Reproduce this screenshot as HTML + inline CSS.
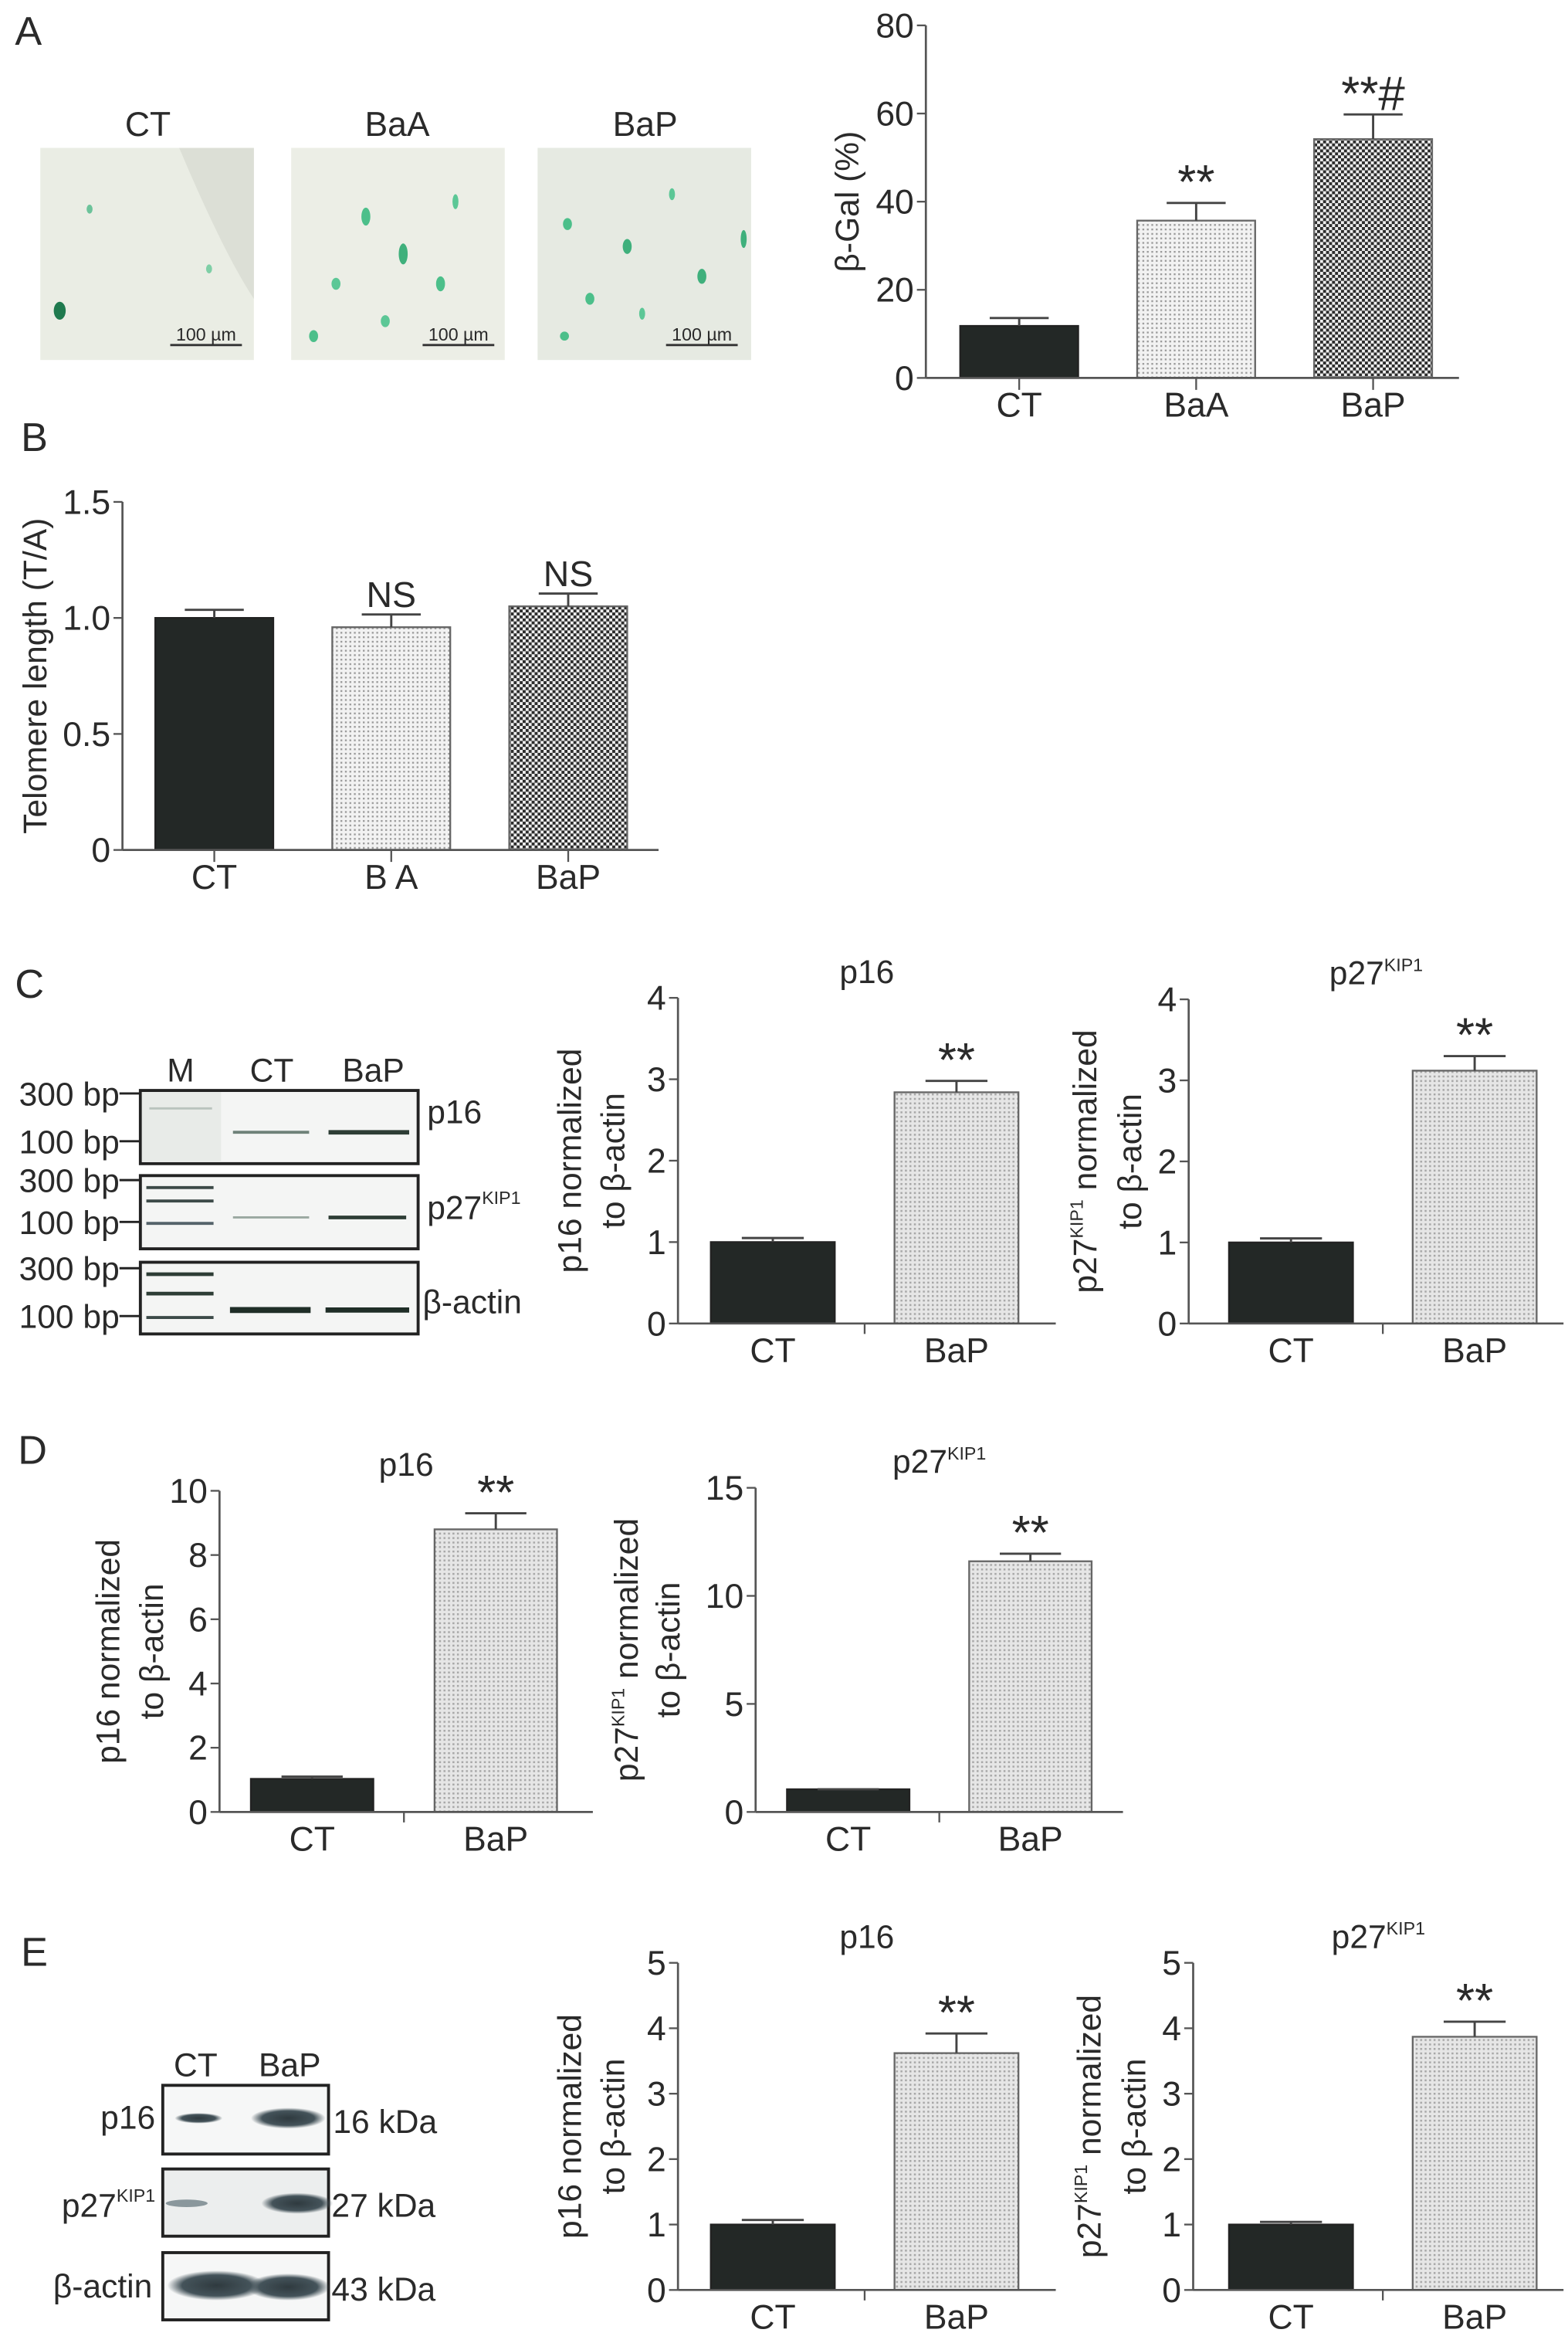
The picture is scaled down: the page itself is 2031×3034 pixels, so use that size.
<!DOCTYPE html>
<html><head><meta charset="utf-8"><style>
html,body{margin:0;padding:0;background:#fff;}
svg{display:block;}
text{font-family:"Liberation Sans",sans-serif;fill:#2a2a2a;}
</style></head><body>
<svg id="fig" xmlns="http://www.w3.org/2000/svg" width="2031" height="3034" viewBox="0 0 1050 1568.5" preserveAspectRatio="none">
<defs>
<pattern id="dotLight" width="3" height="3" patternUnits="userSpaceOnUse"><rect width="3" height="3" fill="#f2f2f2"/><rect width="1.2" height="1.2" fill="#9a9a9a"/></pattern>
<pattern id="checker" width="4" height="4" patternUnits="userSpaceOnUse"><rect width="4" height="4" fill="#eeeeee"/><rect width="2" height="2" fill="#2c2c2c"/><rect x="2" y="2" width="2" height="2" fill="#2c2c2c"/></pattern>
<pattern id="dotBaP" width="3" height="3" patternUnits="userSpaceOnUse"><rect width="3" height="3" fill="#e6e6e6"/><rect width="1.3" height="1.3" fill="#a8a8a8"/></pattern>
<radialGradient id="band" cx="50%" cy="50%" r="50%"><stop offset="0" stop-color="#2f3a3f"/><stop offset="0.7" stop-color="#44535a"/><stop offset="1" stop-color="#44535a" stop-opacity="0"/></radialGradient>
</defs>

<text x="10" y="30" font-size="27">A</text>
<text x="14" y="302" font-size="27">B</text>
<text x="10" y="668" font-size="27">C</text>
<text x="12" y="980" font-size="27">D</text>
<text x="14" y="1316" font-size="27">E</text>

<g>
<text x="99" y="91" font-size="23" text-anchor="middle">CT</text>
<rect x="27" y="99" width="143" height="142" fill="#eaede4"/>
<path d="M120 99 Q150 170 170 200 L170 99Z" fill="#dcdfd6"/>
<ellipse cx="40" cy="208" rx="4" ry="6" fill="#1f7a4e"/>
<ellipse cx="60" cy="140" rx="2" ry="3" fill="#6cc39a"/>
<ellipse cx="140" cy="180" rx="2" ry="3" fill="#7fcfa6"/>
<line x1="114" y1="231" x2="162" y2="231" stroke="#333" stroke-width="1.5"/>
<text x="138" y="228" font-size="12" text-anchor="middle">100 µm</text>
</g>
<g>
<text x="266" y="91" font-size="23" text-anchor="middle">BaA</text>
<rect x="195" y="99" width="143" height="142" fill="#eceee6"/>
<ellipse cx="245" cy="145" rx="3" ry="6" fill="#4cbf8a"/>
<ellipse cx="270" cy="170" rx="3" ry="7" fill="#3fb07c"/>
<ellipse cx="295" cy="190" rx="3" ry="5" fill="#4cbf8a"/>
<ellipse cx="225" cy="190" rx="3" ry="4" fill="#5cc796"/>
<ellipse cx="305" cy="135" rx="2" ry="5" fill="#5cc796"/>
<ellipse cx="210" cy="225" rx="3" ry="4" fill="#4cbf8a"/>
<ellipse cx="258" cy="215" rx="3" ry="4" fill="#5cc796"/>
<line x1="283" y1="231" x2="331" y2="231" stroke="#333" stroke-width="1.5"/>
<text x="307" y="228" font-size="12" text-anchor="middle">100 µm</text>
</g>
<g>
<text x="432" y="91" font-size="23" text-anchor="middle">BaP</text>
<rect x="360" y="99" width="143" height="142" fill="#e6eae2"/>
<ellipse cx="380" cy="150" rx="3" ry="4" fill="#4cbf8a"/>
<ellipse cx="420" cy="165" rx="3" ry="5" fill="#3fb07c"/>
<ellipse cx="450" cy="130" rx="2" ry="4" fill="#5cc796"/>
<ellipse cx="395" cy="200" rx="3" ry="4" fill="#4cbf8a"/>
<ellipse cx="470" cy="185" rx="3" ry="5" fill="#3fb07c"/>
<ellipse cx="498" cy="160" rx="2" ry="6" fill="#3fb07c"/>
<ellipse cx="378" cy="225" rx="3" ry="3" fill="#4cbf8a"/>
<ellipse cx="430" cy="210" rx="2" ry="4" fill="#5cc796"/>
<line x1="446" y1="231" x2="494" y2="231" stroke="#333" stroke-width="1.5"/>
<text x="470" y="228" font-size="12" text-anchor="middle">100 µm</text>
</g>

<g font-size="22">
<text x="121" y="724" text-anchor="middle">M</text>
<text x="182" y="724" text-anchor="middle">CT</text>
<text x="250" y="724" text-anchor="middle">BaP</text>
<rect x="94" y="730" width="186" height="49" fill="#f4f5f4" stroke="#222" stroke-width="2"/>
<rect x="95" y="731" width="53" height="47" fill="#e8ebe8"/>
<rect x="94" y="787" width="186" height="49" fill="#f4f5f4" stroke="#222" stroke-width="2"/>
<rect x="94" y="845" width="186" height="48" fill="#f4f5f4" stroke="#222" stroke-width="2"/>
<line x1="100" y1="742" x2="142" y2="742" stroke="#b9c3bd" stroke-width="1.5"/>
<line x1="156" y1="758" x2="207" y2="758" stroke="#6f8279" stroke-width="2"/>
<line x1="220" y1="758" x2="274" y2="758" stroke="#2d3d35" stroke-width="3"/>
<line x1="98" y1="795" x2="143" y2="795" stroke="#3c4a48" stroke-width="2"/>
<line x1="98" y1="804" x2="143" y2="804" stroke="#3c4a48" stroke-width="2"/>
<line x1="98" y1="819" x2="143" y2="819" stroke="#55636a" stroke-width="2"/>
<line x1="156" y1="815" x2="207" y2="815" stroke="#9aa8a0" stroke-width="1.5"/>
<line x1="220" y1="815" x2="272" y2="815" stroke="#2d3d35" stroke-width="2.5"/>
<line x1="98" y1="853" x2="143" y2="853" stroke="#2d3d35" stroke-width="2.5"/>
<line x1="98" y1="866" x2="143" y2="866" stroke="#2d3d35" stroke-width="2.5"/>
<line x1="98" y1="882" x2="143" y2="882" stroke="#3c4a48" stroke-width="2"/>
<line x1="154" y1="877" x2="208" y2="877" stroke="#1f2e27" stroke-width="4"/>
<line x1="218" y1="877" x2="274" y2="877" stroke="#1f2e27" stroke-width="3.5"/>
<g text-anchor="end">
<text x="80" y="740">300 bp</text><line x1="80" y1="732" x2="94" y2="732" stroke="#222" stroke-width="1.5"/>
<text x="80" y="772">100 bp</text><line x1="80" y1="764" x2="94" y2="764" stroke="#222" stroke-width="1.5"/>
<text x="80" y="798">300 bp</text><line x1="80" y1="790" x2="94" y2="790" stroke="#222" stroke-width="1.5"/>
<text x="80" y="826">100 bp</text><line x1="80" y1="818" x2="94" y2="818" stroke="#222" stroke-width="1.5"/>
<text x="80" y="857">300 bp</text><line x1="80" y1="849" x2="94" y2="849" stroke="#222" stroke-width="1.5"/>
<text x="80" y="889">100 bp</text><line x1="80" y1="881" x2="94" y2="881" stroke="#222" stroke-width="1.5"/>
</g>
<text x="286" y="752">p16</text>
<text x="286" y="816">p27<tspan font-size="12" dy="-10">KIP1</tspan></text>
<text x="283" y="879">β-actin</text>
</g>

<g font-size="22">
<text x="131" y="1390" text-anchor="middle">CT</text>
<text x="194" y="1390" text-anchor="middle">BaP</text>
<rect x="109" y="1396" width="111" height="46" fill="#f6f7f7" stroke="#222" stroke-width="2"/>
<rect x="109" y="1452" width="111" height="45" fill="#eceeee" stroke="#222" stroke-width="2"/>
<rect x="109" y="1508" width="111" height="45" fill="#f6f7f7" stroke="#222" stroke-width="2"/>
<ellipse cx="133" cy="1418" rx="16" ry="3.5" fill="url(#band)"/>
<ellipse cx="193" cy="1418" rx="25" ry="7" fill="url(#band)"/>
<ellipse cx="125" cy="1475" rx="14" ry="2.5" fill="#8a979c"/>
<ellipse cx="199" cy="1475" rx="24" ry="7" fill="url(#band)"/>
<ellipse cx="145" cy="1530" rx="33" ry="10" fill="url(#band)"/>
<ellipse cx="193" cy="1531" rx="28" ry="9" fill="url(#band)"/>
<text x="104" y="1425" text-anchor="end">p16</text>
<text x="104" y="1484" text-anchor="end">p27<tspan font-size="12" dy="-10">KIP1</tspan></text>
<text x="102" y="1538" text-anchor="end">β-actin</text>
<text x="223" y="1428">16 kDa</text>
<text x="222" y="1484">27 kDa</text>
<text x="222" y="1540">43 kDa</text>
</g>

<g id="charts"></g>
</svg>
<script>
const catsA = ["CT","BaA","BaP"];
const valsA = [11.8, 35.7, 54.2];
const errA = [13.6, 39.7, 59.8];
const annA = ["", "**", "**#"];
const ticksA = [0,20,40,60,80];

const catsB = ["CT","B A","BaP"];
const valsB = [1.0, 0.96, 1.05];
const errB = [1.035, 1.015, 1.105];
const annB = ["", "NS", "NS"];
const ticksB = [0,0.5,1.0,1.5];
const tickLabelsB = ["0","0.5","1.0","1.5"];

const cats2 = ["CT","BaP"];
const valsCp16 = [1.0, 2.84];
const errCp16 = [1.05, 2.98];
const valsCp27 = [1.0, 3.12];
const errCp27 = [1.05, 3.30];
const ticksC = [0,1,2,3,4];

const valsDp16 = [1.03, 8.8];
const errDp16 = [1.1, 9.3];
const ticksDp16 = [0,2,4,6,8,10];
const valsDp27 = [1.05, 11.6];
const errDp27 = [1.05, 11.95];
const ticksDp27 = [0,5,10,15];

const valsEp16 = [1.0, 3.62];
const errEp16 = [1.07, 3.92];
const valsEp27 = [1.0, 3.87];
const errEp27 = [1.04, 4.1];
const ticksE = [0,1,2,3,4,5];

const ann2 = ["", "**"];

const NS = "http://www.w3.org/2000/svg";
const root = document.getElementById('charts');
function mk(tag, attrs, parent){ const e=document.createElementNS(NS,tag); for(const k in attrs) e.setAttribute(k,attrs[k]); (parent||root).appendChild(e); return e; }

function drawChart(o){
  const g = mk('g',{});
  
  
  const ymax = o.ticks[o.ticks.length-1];
  const y = v => o.y0 - (v/ymax)*(o.y0-o.yTop);
  const bx = i => o.ax + o.padL + i*o.step;
  o.vals.forEach((v,i)=>{
    const r = mk('rect',{x:bx(i),y:y(v),width:o.bw,height:o.y0-y(v),fill:o.fills[i],stroke:i===0?'#222':'#666','stroke-width':1.2},g);
    
    
    const cx = bx(i)+o.bw/2, cw = o.bw*0.25;
    mk('line',{x1:cx,x2:cx,y1:y(v),y2:y(o.errs[i]),stroke:'#444','stroke-width':1.5},g);
    const cap = mk('line',{x1:cx-cw,x2:cx+cw,y1:y(o.errs[i]),y2:y(o.errs[i]),stroke:'#444','stroke-width':1.5},g);
    
    
    if(o.ann[i]){
      const t = mk('text',{x:cx,y:y(o.errs[i])-(o.ann[i]==="NS"?5:3),'text-anchor':'middle','font-size':o.ann[i]==="NS"?24:32},g);
      t.textContent = o.ann[i];
      
      
    }
    const lb = mk('text',{x:cx,y:o.y0+26,'text-anchor':'middle','font-size':23},g);
    lb.textContent = o.cats[i];
    
    
    if(o.cats.length===3) mk('line',{x1:cx,x2:cx,y1:o.y0,y2:o.y0+8,stroke:'#555','stroke-width':1.2},g);
  });
  if(o.cats.length===2){ const mx=(bx(0)+o.bw+bx(1))/2; mk('line',{x1:mx,x2:mx,y1:o.y0,y2:o.y0+7,stroke:'#555','stroke-width':1.2},g); }
  const ya = mk('line',{x1:o.ax,x2:o.ax,y1:o.yTop,y2:o.y0,stroke:'#555','stroke-width':1.4},g);
   
  const xa = mk('line',{x1:o.ax,x2:o.xEnd,y1:o.y0,y2:o.y0,stroke:'#555','stroke-width':1.4},g);
   
  o.ticks.forEach((t,i)=>{
    mk('line',{x1:o.ax-6,x2:o.ax,y1:y(t),y2:y(t),stroke:'#555','stroke-width':1.2},g);
    const tl = mk('text',{x:o.ax-8,y:y(t)+8,'text-anchor':'end','font-size':23},g);
    tl.textContent = o.tickLabels ? o.tickLabels[i] : String(t);
     
  });
  if(o.title){
    const tt = mk('text',{x:(o.ax+o.xEnd)/2,y:o.yTop-10,'text-anchor':'middle','font-size':22},g);
    tt.innerHTML = o.title;
     
  }
  o.ytitle.forEach((line,k)=>{
    const yc=(o.yTop+o.y0)/2, xx=o.ytx[k];
    const t = mk('text',{x:xx,y:yc,'text-anchor':'middle','font-size':22,transform:`rotate(-90 ${xx} ${yc})`},g);
    t.innerHTML = line;
     
  });
}
const DARK = '#232826';
const sup = '<tspan font-size="12" dy="-9">KIP1</tspan><tspan dy="9"> </tspan>';
const p16t = ['p16 normalized','to β-actin'];
const p27t = ['p27'+sup+'normalized','to β-actin'];

drawChart({name:'chart-a-beta-gal',cats:catsA,vals:valsA,errs:errA,ann:annA,ticks:ticksA,ax:620,xEnd:977,y0:253,yTop:17,padL:23,step:118.5,bw:79,fills:[DARK,'url(#dotLight)','url(#checker)'],ytitle:['β-Gal (%)'],ytx:[575]});
drawChart({name:'chart-b-telomere',cats:catsB,vals:valsB,errs:errB,ann:annB,ticks:ticksB,tickLabels:tickLabelsB,ax:82,xEnd:441,y0:569,yTop:336,padL:22,step:118.5,bw:79,fills:[DARK,'url(#dotLight)','url(#checker)'],ytitle:['Telomere length (T/A)'],ytx:[31]});
drawChart({name:'chart-c-p16',cats:cats2,vals:valsCp16,errs:errCp16,ann:ann2,ticks:ticksC,ax:454,xEnd:707,y0:886,yTop:668,padL:22,step:123,bw:83,fills:[DARK,'url(#dotBaP)'],title:'p16',ytitle:p16t,ytx:[389,418]});
drawChart({name:'chart-c-p27',cats:cats2,vals:valsCp27,errs:errCp27,ann:ann2,ticks:ticksC,ax:796,xEnd:1047,y0:886,yTop:669,padL:27,step:123,bw:83,fills:[DARK,'url(#dotBaP)'],title:'p27'+'<tspan font-size="12" dy="-9">KIP1</tspan>',ytitle:p27t,ytx:[734,764]});
drawChart({name:'chart-d-p16',cats:cats2,vals:valsDp16,errs:errDp16,ann:ann2,ticks:ticksDp16,ax:147,xEnd:397,y0:1213,yTop:998,padL:21,step:123,bw:82,fills:[DARK,'url(#dotBaP)'],title:'p16',ytitle:p16t,ytx:[80,109]});
drawChart({name:'chart-d-p27',cats:cats2,vals:valsDp27,errs:errDp27,ann:ann2,ticks:ticksDp27,ax:506,xEnd:752,y0:1213,yTop:996,padL:21,step:122,bw:82,fills:[DARK,'url(#dotBaP)'],title:'p27'+'<tspan font-size="12" dy="-9">KIP1</tspan>',ytitle:p27t,ytx:[427,455]});
drawChart({name:'chart-e-p16',cats:cats2,vals:valsEp16,errs:errEp16,ann:ann2,ticks:ticksE,ax:454,xEnd:707,y0:1533,yTop:1314,padL:22,step:123,bw:83,fills:[DARK,'url(#dotBaP)'],title:'p16',ytitle:p16t,ytx:[389,418]});
drawChart({name:'chart-e-p27',cats:cats2,vals:valsEp27,errs:errEp27,ann:ann2,ticks:ticksE,ax:799,xEnd:1047,y0:1533,yTop:1314,padL:24,step:123,bw:83,fills:[DARK,'url(#dotBaP)'],title:'p27'+'<tspan font-size="12" dy="-9">KIP1</tspan>',ytitle:p27t,ytx:[737,767]});
</script>
</body></html>
